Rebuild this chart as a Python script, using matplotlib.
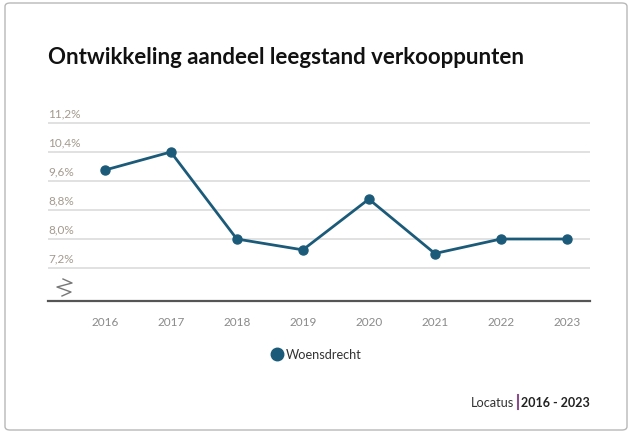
import matplotlib
matplotlib.use("Agg")
import matplotlib.pyplot as plt
from matplotlib.patches import FancyBboxPatch
from matplotlib.lines import Line2D
import matplotlib.transforms as mtransforms

years = [2016, 2017, 2018, 2019, 2020, 2021, 2022, 2023]
values = [9.9, 10.4, 8.0, 7.7, 9.1, 7.6, 8.0, 8.0]
yticks = [7.2, 8.0, 8.8, 9.6, 10.4, 11.2]
ytick_labels = ["7,2%", "8,0%", "8,8%", "9,6%", "10,4%", "11,2%"]
series_name = "Woensdrecht"
title = "Ontwikkeling aandeel leegstand verkooppunten"

plt.rcParams['font.family'] = ['Lato', 'DejaVu Sans']
W, H = 633, 435
fig = plt.figure(figsize=(W/100, H/100), dpi=100)

# card
card = FancyBboxPatch((5/W, 4/H), 622/W, 427/H, boxstyle="round,pad=0,rounding_size=0.008",
                      transform=fig.transFigure, facecolor='white', edgecolor='#b8b8b8', lw=1.0,
                      zorder=-10)
fig.patches.append(card)

def fx(px): return px / W
def fy(py): return 1 - py / H

left, right, top, bottom = 48, 590, 116, 302
ax = fig.add_axes([fx(left), fy(bottom), (right-left)/W, (bottom-top)/H])
ax.patch.set_alpha(0)
ax.set_xlim(2016 - 0.86, 2023 + 0.35)
ax.set_ylim(6.29, 11.42)
for s in ['left', 'right', 'top']:
    ax.spines[s].set_visible(False)
ax.spines['bottom'].set_color('#555555')
ax.spines['bottom'].set_linewidth(1.6)
ax.set_yticks([])
for v in yticks:
    ax.axhline(v, color='#dcdcdc', lw=1.2, zorder=1)
trans = mtransforms.blended_transform_factory(ax.transAxes, ax.transData)
offset = mtransforms.ScaledTranslation(0, 3/72, fig.dpi_scale_trans)
for v, lab in zip(yticks, ytick_labels):
    ax.text(0.0, v, lab, transform=trans + offset, ha='left', va='bottom',
            fontsize=8.5, color='#a39a8e')

ax.set_xticks(years)
ax.set_xticklabels([str(y) for y in years])
ax.tick_params(axis='x', length=0, pad=11, labelsize=8.5, labelcolor='#8a8a8a')

ax.plot(years, values, color='#1b5b79', lw=2, marker='o', ms=6.5, zorder=3)

# axis break symbol
ax.plot([2015.367, 2015.504, 2015.276, 2015.488, 2015.352],
        [6.897, 6.786, 6.676, 6.538, 6.428], color='#777777', lw=1.0, clip_on=False)

fig.text(fx(48), fy(58), title, fontsize=16, fontweight='bold', color='#111111',
         ha='left', va='center')

# legend
fig.add_artist(Line2D([fx(277)], [fy(355)], marker='o', color='#1b5b79', ms=9, lw=0,
                      transform=fig.transFigure))
fig.text(fx(286), fy(355), series_name, fontsize=9.2, color='#333333', ha='left', va='center')

# source
fig.text(fx(514), fy(403), "Locatus", fontsize=9.2, color='#333333', ha='right', va='center')
fig.add_artist(Line2D([fx(517.5), fx(517.5)], [fy(396), fy(410)], color='#8a4f8a', lw=1.5,
                      transform=fig.transFigure))
fig.text(fx(521), fy(403), "2016 - 2023", fontsize=9, fontweight='bold', color='#222222',
         ha='left', va='center')

fig.savefig("out.png", dpi=100)
